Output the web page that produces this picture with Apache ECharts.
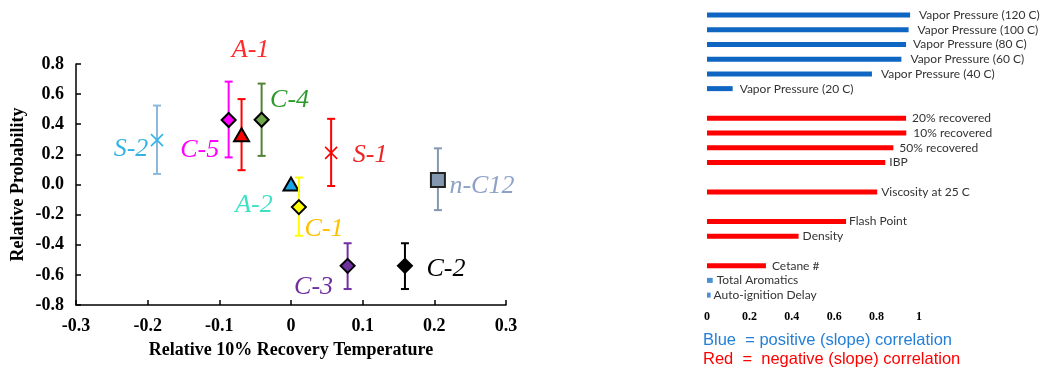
<!DOCTYPE html>
<html>
<head>
<meta charset="utf-8">
<script src="https://cdn.jsdelivr.net/npm/echarts@6/dist/echarts.min.js"></script>
<style>
html,body{margin:0;padding:0;background:#fff;}
#chart{width:1046px;height:373px;}
</style>
</head>
<body>
<div id="chart"></div>
<script>
// ---- Left chart data ----
const samples = ['S-2', 'C-5', 'A-1', 'C-4', 'S-1', 'n-C12', 'A-2', 'C-1', 'C-3', 'C-2'];
const recoveryTemp = [-0.187, -0.087, -0.069, -0.041, 0.056, 0.205, 0.0, 0.011, 0.079, 0.159];
const probability = [0.295, 0.428, 0.327, 0.43, 0.21, 0.03, 0.0, -0.15, -0.54, -0.54];
const errHigh = [0.524, 0.683, 0.567, 0.67, 0.436, 0.24, null, 0.046, -0.39, -0.39];
const errLow = [0.07, 0.18, 0.095, 0.19, -0.01, -0.17, null, -0.34, -0.694, -0.694];
const xTicks = [-0.3, -0.2, -0.1, 0, 0.1, 0.2, 0.3];
const yTicks = [-0.8, -0.6, -0.4, -0.2, 0.0, 0.2, 0.4, 0.6, 0.8];

// ---- Right chart data ----
const properties = ['Vapor Pressure (120 C)', 'Vapor Pressure (100 C)', 'Vapor Pressure (80 C)', 'Vapor Pressure (60 C)', 'Vapor Pressure (40 C)', 'Vapor Pressure (20 C)', 'gap1', '20% recovered', '10% recovered', '50% recovered', 'IBP', 'gap2', 'Viscosity at 25 C', 'gap3', 'Flash Point', 'Density', 'gap4', 'Cetane #', 'Total Aromatics', 'Auto-ignition Delay'];
const correlation = [0.958, 0.951, 0.939, 0.917, 0.778, 0.121, null, 0.939, 0.94, 0.879, 0.841, null, 0.803, null, 0.656, 0.432, null, 0.278, 0.027, 0.017];
const correlationSign = ['pos', 'pos', 'pos', 'pos', 'pos', 'pos', null, 'neg', 'neg', 'neg', 'neg', null, 'neg', null, 'neg', 'neg', null, 'neg', 'pos', 'pos'];
const corrTicks = [0, 0.2, 0.4, 0.6, 0.8, 1];

// ---- Styles (not data) ----
const markerShape = ['cross', 'diamond', 'triangle', 'diamond', 'cross', 'square', 'triangle', 'diamond', 'diamond', 'diamond'];
const markerFill = ['#2fb4e6', '#ff00ff', '#ff0000', '#6fa84a', '#ff0000', '#8497b0', '#1ba5e6', '#ffff00', '#7030a0', '#000000'];
const barColor = ['#8db8de', '#ff00ff', '#ff0000', '#548235', '#ff0000', '#8497b0', null, '#ffff00', '#7030a0', '#000000'];
const labelColor = ['#33b3e3', '#ff00ff', '#ff2a2a', '#2e9a2e', '#ee2222', '#8ea2c8', '#3fe0c4', '#ffc000', '#7030a0', '#000000'];
const labelOffset = [[-26, 9], [-29, 30], [9, -85], [28, -20], [39, 2], [44, 6], [-37, 21], [25, 22], [-34, 21], [41, 3]];
const barLabelGap = [9, 9, 7, 9, 9, 7, 0, 6, 7, 6, 4, 0, 4, 0, 3, 4, 0, 6, 4, 3];

const serif = '"Liberation Serif", "Times New Roman", serif';
const fmt1 = v => (Math.abs(v) < 1e-9 ? '0' : v.toFixed(1));

const chart = echarts.init(document.getElementById('chart'), null, {renderer: 'canvas'});

const scatterData = samples.map((s, i) => [recoveryTemp[i], probability[i], i]);

function renderPoint(params, api) {
  const i = api.value(2);
  const x = api.value(0), y = api.value(1);
  const p = api.coord([x, y]);
  const children = [];
  if (errHigh[i] != null) {
    const t = api.coord([x, errHigh[i]]);
    const b = api.coord([x, errLow[i]]);
    const st = {stroke: barColor[i], lineWidth: 2};
    children.push({type: 'line', shape: {x1: t[0], y1: t[1], x2: b[0], y2: b[1]}, style: st});
    children.push({type: 'line', shape: {x1: t[0] - 4, y1: t[1], x2: t[0] + 4, y2: t[1]}, style: st});
    children.push({type: 'line', shape: {x1: b[0] - 4, y1: b[1], x2: b[0] + 4, y2: b[1]}, style: st});
  }
  const px = p[0], py = p[1];
  const shape = markerShape[i];
  if (shape === 'diamond') {
    children.push({type: 'polygon', shape: {points: [[px, py - 7], [px + 7, py], [px, py + 7], [px - 7, py]]},
      style: {fill: markerFill[i], stroke: '#000', lineWidth: 2}});
  } else if (shape === 'triangle') {
    children.push({type: 'polygon', shape: {points: [[px, py - 7], [px + 7.5, py + 6], [px - 7.5, py + 6]]},
      style: {fill: markerFill[i], stroke: '#000', lineWidth: 2}});
  } else if (shape === 'square') {
    children.push({type: 'rect', shape: {x: px - 7, y: py - 7, width: 14, height: 14},
      style: {fill: markerFill[i], stroke: '#222', lineWidth: 2}});
  } else if (shape === 'cross') {
    const cs = {stroke: markerFill[i], lineWidth: 1.6};
    children.push({type: 'line', shape: {x1: px - 6, y1: py - 6, x2: px + 6, y2: py + 6}, style: cs});
    children.push({type: 'line', shape: {x1: px - 6, y1: py + 6, x2: px + 6, y2: py - 6}, style: cs});
  }
  children.push({
    type: 'text', z2: 10,
    style: {
      text: samples[i], x: px + labelOffset[i][0], y: py + labelOffset[i][1],
      fill: labelColor[i], font: 'italic 26px ' + serif,
      textAlign: 'center', textVerticalAlign: 'middle',
      shadowColor: 'rgba(0,0,0,0.4)', shadowBlur: 2, shadowOffsetX: 1.5, shadowOffsetY: 1.5
    }
  });
  return {type: 'group', children};
}

const barData = correlation.map((v, i) => {
  if (v == null) return null;
  const small = v < 0.05;
  const col = correlationSign[i] === 'pos' ? (small ? '#4a90d6' : '#0f66c2') : '#ff0000';
  return {
    value: v,
    itemStyle: {color: col},
    label: {distance: barLabelGap[i]}
  };
});

const option = {
  backgroundColor: '#ffffff',
  animation: false,
  grid: [
    {left: 76, top: 64, width: 430, height: 241},
    {left: 707, top: 7.5, width: 212, height: 295}
  ],
  xAxis: [
    {
      gridIndex: 0, type: 'value', min: xTicks[0], max: xTicks[xTicks.length - 1], interval: 0.1,
      name: 'Relative 10% Recovery Temperature', nameLocation: 'middle', nameGap: 36,
      nameTextStyle: {fontFamily: serif, fontWeight: 'bold', fontSize: 18, color: '#000'},
      axisLine: {show: true, onZero: false, lineStyle: {color: '#000', width: 1.5}},
      axisTick: {show: true, inside: true, length: 5, lineStyle: {color: '#000', width: 1.5}},
      axisLabel: {fontFamily: serif, fontWeight: 'bold', fontSize: 18, color: '#000', margin: 12, formatter: fmt1},
      splitLine: {show: false}
    },
    {
      gridIndex: 1, type: 'value', min: corrTicks[0], max: corrTicks[corrTicks.length - 1], interval: 0.2,
      axisLine: {show: false}, axisTick: {show: false}, splitLine: {show: false},
      axisLabel: {fontFamily: serif, fontWeight: 'bold', fontSize: 12, color: '#000', margin: 8,
        formatter: v => (Math.abs(v) < 1e-9 ? '0' : (Math.abs(v - 1) < 1e-9 ? '1' : v.toFixed(1)))}
    }
  ],
  yAxis: [
    {
      gridIndex: 0, type: 'value', min: yTicks[0], max: yTicks[yTicks.length - 1], interval: 0.2,
      name: 'Relative Probability', nameLocation: 'middle', nameGap: 49,
      nameTextStyle: {fontFamily: serif, fontWeight: 'bold', fontSize: 18, color: '#000'},
      axisLine: {show: true, onZero: false, lineStyle: {color: '#000', width: 1.5}},
      axisTick: {show: true, inside: true, length: 5, lineStyle: {color: '#000', width: 1.5}},
      axisLabel: {fontFamily: serif, fontWeight: 'bold', fontSize: 18, color: '#000', margin: 12,
        formatter: v => v.toFixed(1)},
      splitLine: {show: false}
    },
    {
      gridIndex: 1, type: 'category', data: properties, inverse: true,
      axisLine: {show: false}, axisTick: {show: false}, axisLabel: {show: false}, splitLine: {show: false}
    }
  ],
  series: [
    {
      type: 'custom', xAxisIndex: 0, yAxisIndex: 0, data: scatterData, renderItem: renderPoint,
      encode: {x: 0, y: 1}, clip: false
    },
    {
      type: 'bar', xAxisIndex: 1, yAxisIndex: 1, data: barData, barWidth: 5,
      label: {
        show: true, position: 'right', formatter: p => properties[p.dataIndex],
        fontFamily: 'Lato, "Open Sans", sans-serif', fontSize: 12, color: '#333'
      }
    }
  ],
  graphic: [
    {type: 'text', left: 703, top: 332, style: {text: 'Blue  = positive (slope) correlation', fill: '#2480d6',
      font: '16.5px "Liberation Sans", Arial, sans-serif'}},
    {type: 'text', left: 703, top: 351, style: {text: 'Red  =  negative (slope) correlation', fill: '#ff0000',
      font: '16.5px "Liberation Sans", Arial, sans-serif'}}
  ]
};
chart.setOption(option);
</script>
</body>
</html>
